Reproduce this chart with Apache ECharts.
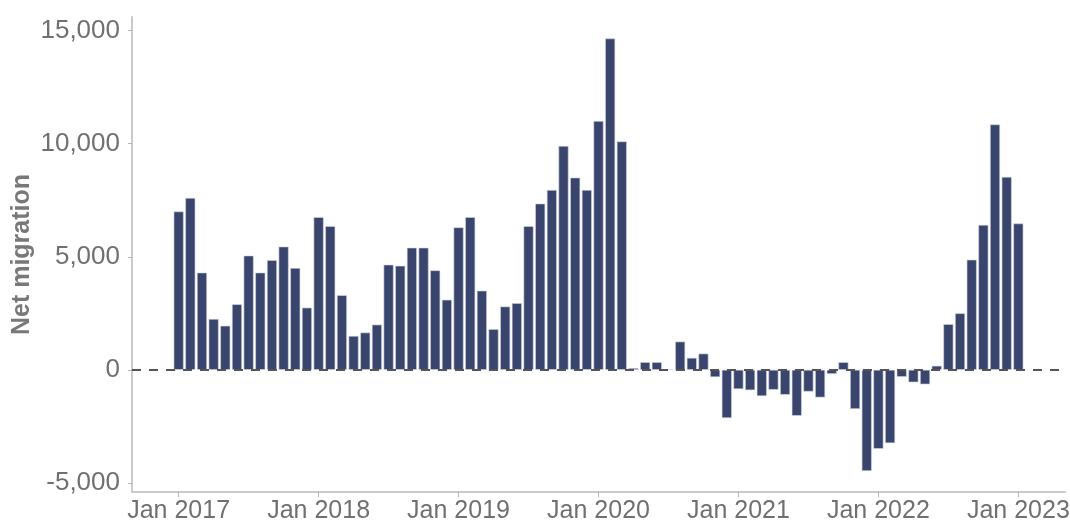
<!DOCTYPE html>
<html>
<head>
<meta charset="utf-8">
<script src="https://cdn.jsdelivr.net/npm/echarts@6/dist/echarts.min.js"></script>
<style>
  html, body { margin: 0; padding: 0; background: #fff; }
  #chart { width: 1070px; height: 525px; }
</style>
</head>
<body>
<div id="chart"></div>
<script>
// monthly net migration, Jan 2017 .. Jan 2023
const years = ['2017', '2018', '2019', '2020', '2021', '2022', '2023']
const monthNames = ['Jan', 'Feb', 'Mar', 'Apr', 'May', 'Jun', 'Jul', 'Aug', 'Sep', 'Oct', 'Nov', 'Dec']

const netMigration = [
  7000, 7600, 4300, 2250, 1950, 2900, 5050, 4300, 4850, 5450, 4500, 2750,      // 2017
  6750, 6350, 3300, 1500, 1650, 2000, 4650, 4600, 5400, 5400, 4400, 3100,      // 2018
  6300, 6750, 3500, 1800, 2800, 2950, 6350, 7350, 7950, 9900, 8500, 7950,      // 2019
  11000, 14650, 10100, 80, 340, 340, 30, 1250, 530, 720, -320, -2130,          // 2020
  -850, -900, -1160, -880, -1100, -2030, -960, -1220, -180, 340, -1730, -4470, // 2021
  -3490, -3240, -310, -550, -640, 180, 2020, 2500, 4870, 6410, 10850, 8530,    // 2022
  6470                                                                         // 2023
]

const xTickLabels = ['Jan 2017', 'Jan 2018', 'Jan 2019', 'Jan 2020', 'Jan 2021', 'Jan 2022', 'Jan 2023']
const yTicks = [-5000, 0, 5000, 10000, 15000]

// month labels, one per bar
const months = []
years.forEach(function (y) {
  monthNames.forEach(function (m) {
    if (months.length < netMigration.length) months.push(m + ' ' + y)
  })
})

const xTickPos = xTickLabels.map(function (l) { return months.indexOf(l) })

const chart = echarts.init(document.getElementById('chart'))
const gray = '#707070'
const font = 'Liberation Sans, Arial, sans-serif'

const option = {
  animation: false,
  grid: { left: 132, right: 5, top: 17, bottom: 33, outerBoundsMode: 'none', containLabel: false },
  xAxis: {
    type: 'value',
    min: -4,
    max: 76,
    axisLine: { onZero: false, lineStyle: { color: '#cacaca', width: 2 } },
    axisTick: { show: true, customValues: xTickPos, length: 5, lineStyle: { color: '#b5b5b5', width: 1 } },
    axisLabel: {
      customValues: xTickPos,
      margin: 7,
      color: gray,
      fontFamily: font,
      fontSize: 25,
      formatter: function (v) { return months[v] }
    },
    splitLine: { show: false }
  },
  yAxis: {
    type: 'value',
    min: -5400,
    max: 15600,
    name: 'Net migration',
    nameLocation: 'middle',
    nameGap: 97,
    nameMoveOverlap: false,
    nameTextStyle: {
      color: '#787878',
      fontFamily: font,
      fontSize: 25,
      fontWeight: 'bold'
    },
    axisLine: { show: true, onZero: false, lineStyle: { color: '#cacaca', width: 2 } },
    axisTick: { show: true, customValues: yTicks, length: 4, lineStyle: { color: '#b5b5b5', width: 1 } },
    axisLabel: {
      customValues: yTicks,
      margin: 12,
      color: gray,
      fontFamily: font,
      fontSize: 26,
      formatter: function (v) { return v.toLocaleString('en-US') }
    },
    splitLine: { show: false }
  },
  series: [
    {
      name: 'Net migration',
      type: 'bar',
      barWidth: 10,
      itemStyle: { color: '#3a456e', borderColor: '#d3d6e3', borderWidth: 0.6 },
      data: netMigration.map(function (v, i) { return [i, v] }),
      markLine: {
        silent: true,
        symbol: 'none',
        label: { show: false },
        lineStyle: { color: '#555555', type: [9, 8], width: 2 },
        data: [{ yAxis: 0 }],
        z: 5
      }
    }
  ]
}

chart.setOption(option)
</script>
</body>
</html>
